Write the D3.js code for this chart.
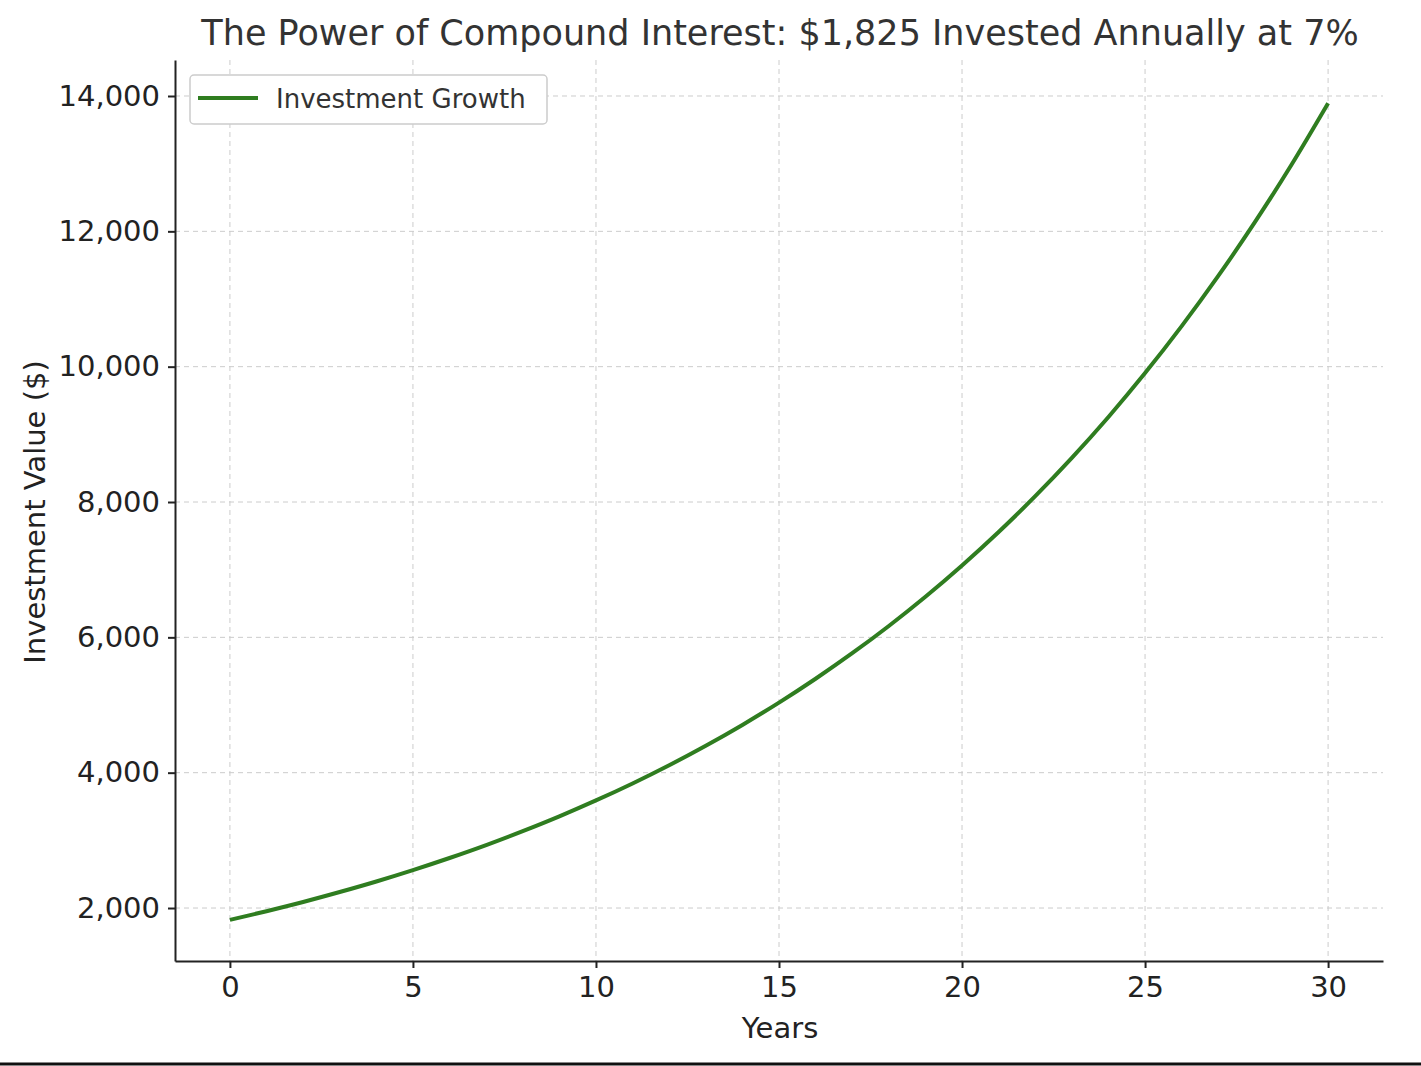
<!DOCTYPE html>
<html><head><meta charset="utf-8">
<script src="https://cdn.jsdelivr.net/npm/d3@7"></script>
<style>body{margin:0;background:#fff}svg{display:block;font-family:"DejaVu Sans",sans-serif}</style>
</head><body><div id="chart"></div>
<script>
// values
const years = d3.range(0, 31);
const values = [1825,1953,2089,2236,2392,2560,2739,2930,3136,3355,3590,3841,4110,4398,4706,5035,
  5388,5765,6168,6600,7062,7557,8086,8652,9257,9905,10599,11341,12135,12984,13893];
const xTicks = [0,5,10,15,20,25,30];
const yTicks = [2000,4000,6000,8000,10000,12000,14000];

const width = 1421, height = 1066;
const mLeft = 175, mRight = 1383, mTop = 60, mBottom = 961;

const svg = d3.select("#chart").append("svg").attr("width", width).attr("height", height);

const x = d3.scaleLinear([-1.5, 31.5], [mLeft, mRight]);
const y = d3.scaleLinear([1217, 14532], [mBottom, mTop]);

// grid
svg.append("g").selectAll("line").data(xTicks).join("line")
  .attr("x1", d => x(d)).attr("x2", d => x(d)).attr("y1", mTop).attr("y2", mBottom)
  .attr("stroke", "#ccc").attr("stroke-dasharray", "5,4");
svg.append("g").selectAll("line").data(yTicks).join("line")
  .attr("y1", d => y(d)).attr("y2", d => y(d)).attr("x1", mLeft).attr("x2", mRight)
  .attr("stroke", "#ccc").attr("stroke-dasharray", "5,4");

const xAxis = svg.append("g").attr("transform", `translate(0,${mBottom})`)
  .call(d3.axisBottom(x).tickValues(xTicks).tickSize(7).tickPadding(8).tickSizeOuter(0));
const yAxis = svg.append("g").attr("transform", `translate(${mLeft},0)`)
  .call(d3.axisLeft(y).tickValues(yTicks).tickSize(7).tickPadding(8).tickSizeOuter(0));
[xAxis, yAxis].forEach(a => {
  a.selectAll("text").attr("font-size", 29).attr("fill", "#222").attr("font-family", "DejaVu Sans");
  a.selectAll("path,line").attr("stroke", "#222").attr("stroke-width", 2);
});

svg.append("path").datum(values)
  .attr("fill", "none").attr("stroke", "#2f7d20").attr("stroke-width", 4)
  .attr("d", d3.line().x((d, i) => x(years[i])).y(d => y(d)).curve(d3.curveMonotoneX));

svg.append("text").attr("x", 780).attr("y", 45).attr("text-anchor", "middle")
  .attr("font-size", 35).attr("fill", "#333")
  .text("The Power of Compound Interest: $1,825 Invested Annually at 7%");
svg.append("text").attr("x", 780).attr("y", 1038).attr("text-anchor", "middle")
  .attr("font-size", 29).attr("fill", "#222").text("Years");
svg.append("text").attr("transform", "translate(45,512) rotate(-90)").attr("text-anchor", "middle")
  .attr("font-size", 29).attr("fill", "#222").text("Investment Value ($)");

// legend
const lg = svg.append("g");
lg.append("rect").attr("x", 190).attr("y", 75).attr("width", 357).attr("height", 49).attr("rx", 4)
  .attr("fill", "#fff").attr("stroke", "#ccc").attr("stroke-width", 1.5);
lg.append("line").attr("x1", 198).attr("x2", 258).attr("y1", 98).attr("y2", 98)
  .attr("stroke", "#2f7d20").attr("stroke-width", 4);
lg.append("text").attr("x", 276).attr("y", 108).attr("font-size", 26).attr("fill", "#333").text("Investment Growth");

svg.append("line").attr("x1", 0).attr("x2", width).attr("y1", 1064).attr("y2", 1064)
  .attr("stroke", "#111").attr("stroke-width", 3);
</script></body></html>
